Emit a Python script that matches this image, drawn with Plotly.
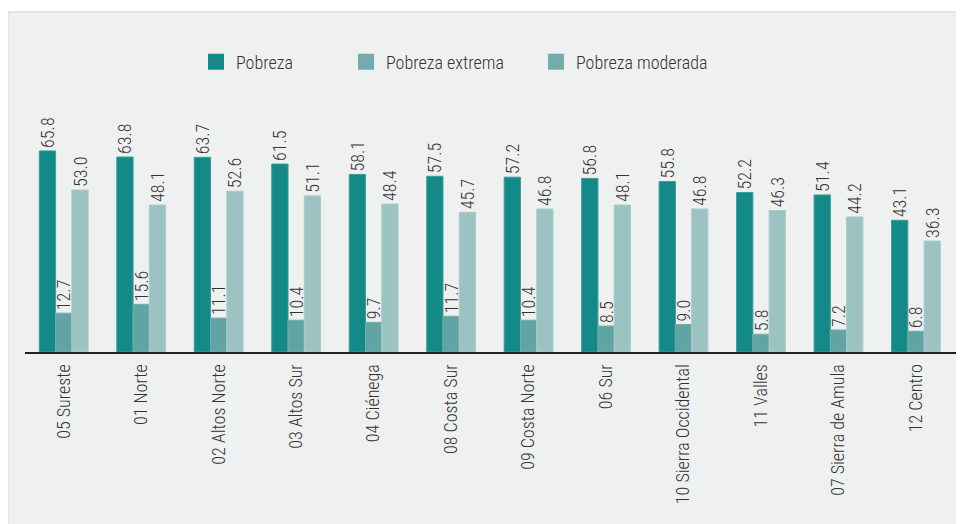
import plotly.graph_objects as go

categories = ["05 Sureste", "01 Norte", "02 Altos Norte", "03 Altos Sur", "04 Ciénega",
              "08 Costa Sur", "09 Costa Norte", "06 Sur", "10 Sierra Occidental",
              "11 Valles", "07 Sierra de Amula", "12 Centro"]
pobreza = [65.8, 63.8, 63.7, 61.5, 58.1, 57.5, 57.2, 56.8, 55.8, 52.2, 51.4, 43.1]
pobreza_extrema = [12.7, 15.6, 11.1, 10.4, 9.7, 11.7, 10.4, 8.5, 9.0, 5.8, 7.2, 6.8]
pobreza_moderada = [53.0, 48.1, 52.6, 51.1, 48.4, 45.7, 46.8, 48.1, 46.8, 46.3, 44.2, 36.3]
series_names = ["Pobreza", "Pobreza extrema", "Pobreza moderada"]

W, H = 964, 524
L, R, T, B = 17, 8, 92, 180
PW, PH = W - L - R, H - T - B
FONT = "Roboto Condensed, Roboto, sans-serif"
TXT = "#333333"

def px_x(p):
    return (p - L) / PW

def px_y(p):
    return (H - B - p) / PH

colors = ["#138a87", "#60a4a3", "#9cc3c2"]
edge = ["#3a9d9a", "#70aead", "#a9cccb"]
legend_colors = ["#138a87", "#74acac", "#74acac"]

fig = go.Figure()
for name, vals, c, e in zip(series_names, [pobreza, pobreza_extrema, pobreza_moderada], colors, edge):
    fig.add_trace(go.Bar(
        x=categories, y=vals, name=name, showlegend=False,
        marker=dict(color=c, line=dict(color=e, width=1)),
        text=[f"{v:.1f}" for v in vals], textposition="outside", textangle=-90,
        textfont=dict(family=FONT, size=18, color=TXT, weight=300),
        cliponaxis=False, constraintext="none",
    ))

legend_ids = ["legend", "legend2", "legend3"]
legend_px = [188, 338, 528]
for name, c, lid in zip(series_names, legend_colors, legend_ids):
    fig.add_trace(go.Scatter(
        x=[None], y=[None], mode="markers", name=name, legend=lid,
        marker=dict(symbol="square", size=19, color=c),
    ))

legend_common = dict(orientation="h", yanchor="middle", xanchor="left",
                     bgcolor="rgba(0,0,0,0)", font=dict(family=FONT, size=18, color=TXT, weight=300),
                     itemsizing="trace")
layout_legends = {}
for lid, p in zip(legend_ids, legend_px):
    layout_legends[lid] = dict(legend_common, x=px_x(p), y=px_y(54))

fig.update_layout(
    width=W, height=H,
    margin=dict(l=L, r=R, t=T, b=B, autoexpand=False),
    paper_bgcolor="#eff0f0", plot_bgcolor="rgba(0,0,0,0)",
    barmode="group", bargap=0.37, bargroupgap=0,
    font=dict(family=FONT, size=18, color=TXT),
    xaxis=dict(range=[-0.5, 11.62], showline=True, linecolor="#222222", linewidth=2,
               ticks="", tickangle=-90, tickfont=dict(family=FONT, size=18, color=TXT, weight=300),
               showgrid=False, zeroline=False, fixedrange=True, ticklabelstandoff=3,
               automargin=False),
    yaxis=dict(range=[0, (H - B - T) / 3.056], visible=False, showgrid=False, zeroline=False,
               automargin=False),
    shapes=[
        dict(type="rect", xref="paper", yref="paper", layer="below",
             x0=px_x(0), x1=px_x(W + 2), y0=px_y(H + 2), y1=px_y(0),
             fillcolor="white", line=dict(width=0)),
        dict(type="rect", xref="paper", yref="paper", layer="below",
             x0=px_x(0), x1=px_x(W + 2), y0=px_y(H + 2), y1=px_y(4),
             fillcolor="#eff0f0", line=dict(color="#e2e3e3", width=2)),
    ],
    **layout_legends,
)

fig.write_html("out.html",
               post_script="document.documentElement.style.overflow='hidden';"
                           "document.body.style.overflow='hidden';")
